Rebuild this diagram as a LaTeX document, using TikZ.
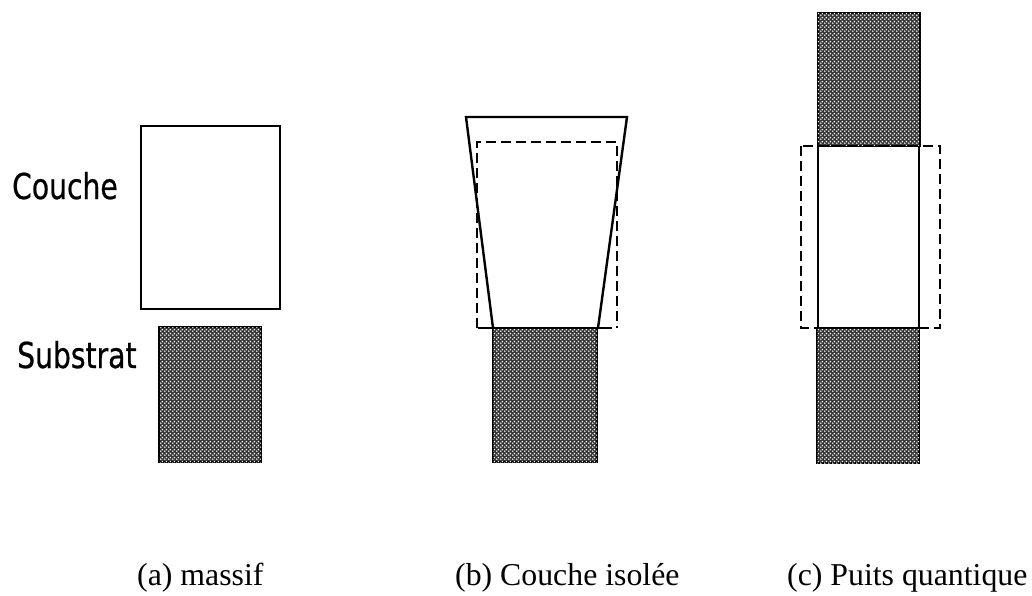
\documentclass[tikz,border=0pt]{standalone}
\usepackage{fontspec}
\setmainfont{Liberation Serif}
\newfontfamily\labfont[FakeStretch=0.79,FakeBold=0.6]{DejaVu Sans}
\usetikzlibrary{patterns}
\pgfdeclarepatternformonly{coarsedots}{\pgfpointorigin}{\pgfpoint{4pt}{4pt}}{\pgfpoint{4pt}{4pt}}{%
  \pgfpathcircle{\pgfpoint{1pt}{1pt}}{0.95pt}%
  \pgfpathcircle{\pgfpoint{3pt}{3pt}}{0.95pt}%
  \pgfusepath{fill}}
\begin{document}
\begin{tikzpicture}[x=1pt,y=-1pt,
  solidline/.style={draw=black, line width=2.4pt, line join=miter},
  subfill/.style={solidline, fill=black!78, postaction={pattern=coarsedots, pattern color=white}},
  dashline/.style={draw=black, line width=2.2pt, dash pattern=on 10pt off 5pt},
  lab/.style={font=\labfont\fontsize{35.7}{40}\selectfont, anchor=base west, inner sep=0pt},
  capt/.style={font=\fontsize{31.8}{36}\selectfont, anchor=base west, inner sep=0pt}]
\useasboundingbox (0,0) rectangle (1032,596);
% (a) massif
\draw[solidline, fill=white] (141,126) rectangle (280,309);
\draw[subfill] (159,327) rectangle (261,462);
\node[lab] (couche) at (12,199) {Couche};
\node[lab] (substrat) at (17,368) {Substrat};
% (b) couche isolee
\draw[subfill] (493,328) rectangle (597,462);
\draw[dashline] (477,328) -- (477,142) -- (617,142) -- (617,328);
\draw[solidline] (493,328) -- (466,117) -- (627,117) -- (598,328);
\draw[solidline] (478,328) -- (612,328);
% (c) puits quantique
\draw[subfill] (818,13) rectangle (920,146);
\draw[subfill] (817,328) rectangle (919,463);
\draw[solidline] (818,146) -- (818,328);
\draw[solidline] (919,146) -- (919,328);
\draw[dashline] (801,146) rectangle (940,328);
% captions
\node[capt] (capa) at (137,585) {(a) massif};
\node[capt] (capb) at (455,585) {(b) Couche isolée};
\node[capt] (capc) at (787,585) {(c) Puits quantique};
\end{tikzpicture}
\end{document}
